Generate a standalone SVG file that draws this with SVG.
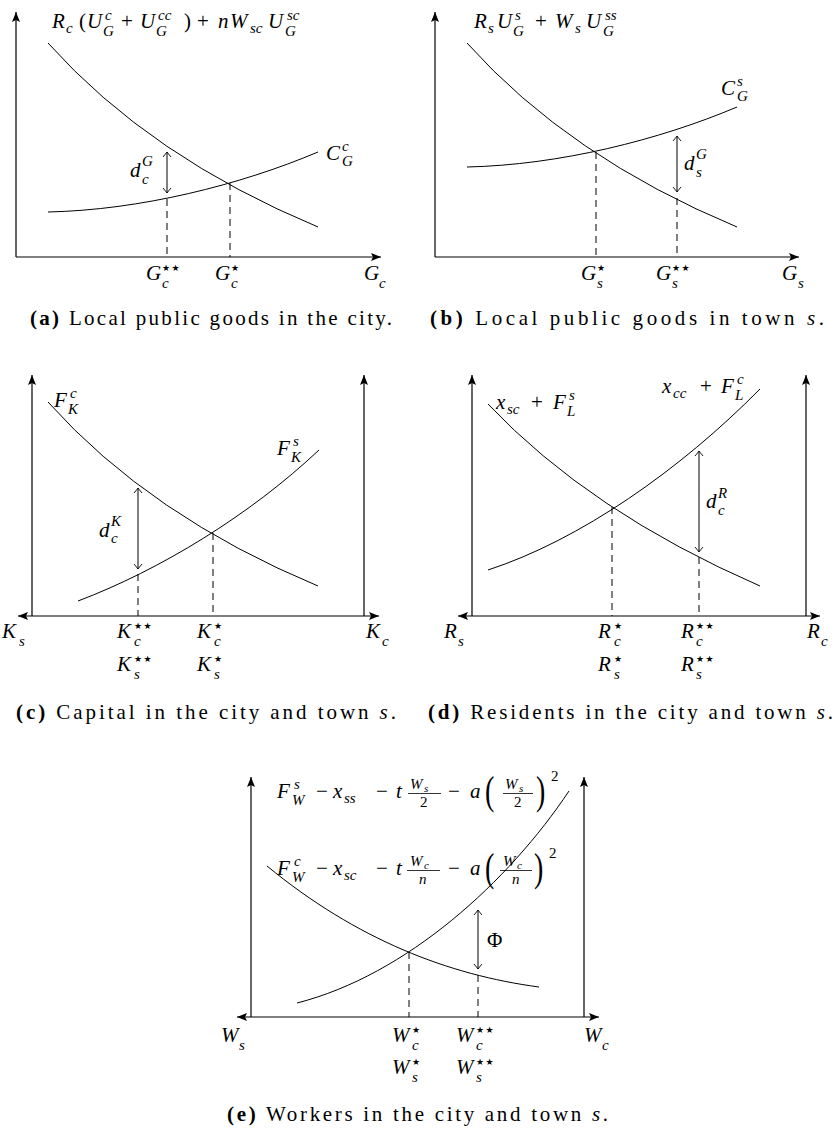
<svg xmlns="http://www.w3.org/2000/svg" width="839" height="1130" viewBox="0 0 839 1130">
<style>
text { font-family: "Liberation Serif", "Times New Roman", serif; fill: #000; }
.m { font-size: 21px; font-style: italic; }
.r { font-style: normal; }
.sc { font-size: 15px; }
.ss { font-size: 11px; }
.st { font-family: "DejaVu Sans", sans-serif; font-style: normal; font-size: 9px; letter-spacing: 1.5px; }
.cap { font-size: 21px; }
.b { font-weight: bold; }
.i { font-style: italic; }
.bp { font-size: 40px; font-style: normal; }
.axis { stroke: #000; stroke-width: 1.2; fill: none; }
.curve { stroke: #000; stroke-width: 1; fill: none; }
.dash { stroke: #000; stroke-width: 1; stroke-dasharray: 7 5; fill: none; }
.gap { stroke: #000; stroke-width: 1; fill: none; }
.bar { stroke: #000; stroke-width: 0.8; }
</style>
<defs>
<marker id="ah" viewBox="0 0 10 8" refX="10" refY="4" markerWidth="10" markerHeight="8" markerUnits="userSpaceOnUse" orient="auto-start-reverse">
<path d="M0,0 L10,4 L0,8 L2,4 z" fill="#000"/>
</marker>
<marker id="oh" viewBox="-6 -5 7 10" refX="0" refY="0" markerWidth="7" markerHeight="10" markerUnits="userSpaceOnUse" orient="auto-start-reverse">
<path d="M-5,-4 Q-1.5,-1 0,0 Q-1.5,1 -5,4" fill="none" stroke="#000" stroke-width="0.9"/>
</marker>
</defs>

<!-- Panel (a) -->
<g id="panel-a">
<g id="a-axes">
<line class="axis" x1="16" y1="257" x2="16" y2="12" marker-end="url(#ah)"/>
<line class="axis" x1="16" y1="257" x2="381" y2="257" marker-end="url(#ah)"/>
</g>
<g id="a-curves">
<path class="curve" d="M48,43 Q150,157 318,227"/>
<path class="curve" d="M48,212 C140,210 240,185 318,152"/>
</g>
<g id="a-connectors">
<line class="dash" x1="167" y1="199" x2="167" y2="257"/>
<line class="dash" x1="230" y1="183" x2="230" y2="257"/>
<line class="gap" x1="167" y1="152" x2="167" y2="193" marker-start="url(#oh)" marker-end="url(#oh)"/>
</g>
<g id="a-labels">
<text class="m"><tspan x="52" y="28">R</tspan><tspan class="sc" x="66" y="33">c</tspan><tspan class="r" x="79" y="28">(</tspan><tspan x="87" y="28">U</tspan><tspan class="sc" x="105" y="20">c</tspan><tspan class="sc" x="103" y="36">G</tspan><tspan class="r" x="121" y="28">+</tspan><tspan x="140" y="28">U</tspan><tspan class="sc" x="158" y="20">cc</tspan><tspan class="sc" x="156" y="36">G</tspan><tspan class="r" x="184" y="28">)</tspan><tspan class="r" x="197" y="28">+</tspan><tspan x="218" y="28">n</tspan><tspan x="230" y="28">W</tspan><tspan class="sc" x="250" y="33">sc</tspan><tspan x="268" y="28">U</tspan><tspan class="sc" x="287" y="20">sc</tspan><tspan class="sc" x="285" y="36">G</tspan></text>
<text class="m"><tspan x="326" y="160">C</tspan><tspan class="sc" x="342" y="151">c</tspan><tspan class="sc" x="342" y="166">G</tspan></text>
<text class="m"><tspan x="130" y="177">d</tspan><tspan class="sc" x="142" y="166">G</tspan><tspan class="sc" x="142" y="184">c</tspan></text>
<text class="m"><tspan x="146" y="280">G</tspan><tspan class="st" x="162" y="271">★★</tspan><tspan class="sc" x="162" y="288">c</tspan></text>
<text class="m"><tspan x="215" y="280">G</tspan><tspan class="st" x="231" y="271">★</tspan><tspan class="sc" x="231" y="288">c</tspan></text>
<text class="m"><tspan x="364" y="280">G</tspan><tspan class="sc" x="379" y="288">c</tspan></text>
</g>
<text id="cap-a" class="cap" x="30" y="325" textLength="362" lengthAdjust="spacing"><tspan class="b">(a)</tspan> Local public goods in the city.</text>
</g>

<!-- Panel (b) -->
<g id="panel-b">
<g id="b-axes">
<line class="axis" x1="435" y1="257" x2="435" y2="12" marker-end="url(#ah)"/>
<line class="axis" x1="435" y1="257" x2="799" y2="257" marker-end="url(#ah)"/>
</g>
<g id="b-curves">
<path class="curve" d="M467,43 Q569,157 737,227"/>
<path class="curve" d="M467,167 C559,165 659,140 737,107"/>
</g>
<g id="b-connectors">
<line class="dash" x1="596" y1="152" x2="596" y2="257"/>
<line class="dash" x1="677" y1="198" x2="677" y2="257"/>
<line class="gap" x1="677" y1="136" x2="677" y2="192" marker-start="url(#oh)" marker-end="url(#oh)"/>
</g>
<g id="b-labels">
<text class="m"><tspan x="474" y="28">R</tspan><tspan class="sc" x="488" y="33">s</tspan><tspan x="497" y="28">U</tspan><tspan class="sc" x="515" y="20">s</tspan><tspan class="sc" x="513" y="36">G</tspan><tspan class="r" x="535" y="28">+</tspan><tspan x="555" y="28">W</tspan><tspan class="sc" x="575" y="33">s</tspan><tspan x="586" y="28">U</tspan><tspan class="sc" x="605" y="20">ss</tspan><tspan class="sc" x="603" y="36">G</tspan></text>
<text class="m"><tspan x="721" y="95">C</tspan><tspan class="sc" x="737" y="86">s</tspan><tspan class="sc" x="737" y="101">G</tspan></text>
<text class="m"><tspan x="684" y="170">d</tspan><tspan class="sc" x="696" y="159">G</tspan><tspan class="sc" x="696" y="177">s</tspan></text>
<text class="m"><tspan x="581" y="280">G</tspan><tspan class="st" x="597" y="271">★</tspan><tspan class="sc" x="597" y="288">s</tspan></text>
<text class="m"><tspan x="656" y="280">G</tspan><tspan class="st" x="672" y="271">★★</tspan><tspan class="sc" x="672" y="288">s</tspan></text>
<text class="m"><tspan x="782" y="280">G</tspan><tspan class="sc" x="798" y="288">s</tspan></text>
</g>
<text id="cap-b" class="cap" x="430" y="325" textLength="394" lengthAdjust="spacing"><tspan class="b">(b)</tspan> Local public goods in town <tspan class="i">s</tspan>.</text>
</g>

<!-- Panel (c) -->
<g id="panel-c">
<g id="c-axes">
<line class="axis" x1="18" y1="616" x2="379" y2="616" marker-start="url(#ah)" marker-end="url(#ah)"/>
<line class="axis" x1="32" y1="616" x2="32" y2="375" marker-end="url(#ah)"/>
<line class="axis" x1="364" y1="616" x2="364" y2="375" marker-end="url(#ah)"/>
</g>
<g id="c-curves">
<path class="curve" d="M48,402 Q150,516 318,586"/>
<path class="curve" d="M78,601 C160,570 250,515 319,450"/>
</g>
<g id="c-connectors">
<line class="dash" x1="138" y1="574" x2="138" y2="616"/>
<line class="dash" x1="213" y1="533" x2="213" y2="616"/>
<line class="gap" x1="138" y1="488" x2="138" y2="569" marker-start="url(#oh)" marker-end="url(#oh)"/>
</g>
<g id="c-labels">
<text class="m"><tspan x="54" y="407">F</tspan><tspan class="sc" x="70" y="398">c</tspan><tspan class="sc" x="68" y="414">K</tspan></text>
<text class="m"><tspan x="277" y="455">F</tspan><tspan class="sc" x="293" y="446">s</tspan><tspan class="sc" x="291" y="462">K</tspan></text>
<text class="m"><tspan x="99" y="537">d</tspan><tspan class="sc" x="111" y="526">K</tspan><tspan class="sc" x="111" y="543">c</tspan></text>
<text class="m"><tspan x="2" y="638">K</tspan><tspan class="sc" x="19" y="646">s</tspan></text>
<text class="m"><tspan x="117" y="638">K</tspan><tspan class="st" x="134" y="629">★★</tspan><tspan class="sc" x="134" y="646">c</tspan></text>
<text class="m"><tspan x="117" y="671">K</tspan><tspan class="st" x="134" y="662">★★</tspan><tspan class="sc" x="134" y="679">s</tspan></text>
<text class="m"><tspan x="197" y="638">K</tspan><tspan class="st" x="214" y="629">★</tspan><tspan class="sc" x="214" y="646">c</tspan></text>
<text class="m"><tspan x="197" y="671">K</tspan><tspan class="st" x="214" y="662">★</tspan><tspan class="sc" x="214" y="679">s</tspan></text>
<text class="m"><tspan x="366" y="638">K</tspan><tspan class="sc" x="382" y="646">c</tspan></text>
</g>
<text id="cap-c" class="cap" x="16" y="719" textLength="380" lengthAdjust="spacing"><tspan class="b">(c)</tspan> Capital in the city and town <tspan class="i">s</tspan>.</text>
</g>

<!-- Panel (d) -->
<g id="panel-d">
<g id="d-axes">
<line class="axis" x1="458" y1="616" x2="820" y2="616" marker-start="url(#ah)" marker-end="url(#ah)"/>
<line class="axis" x1="472" y1="616" x2="472" y2="375" marker-end="url(#ah)"/>
<line class="axis" x1="806" y1="616" x2="806" y2="375" marker-end="url(#ah)"/>
</g>
<g id="d-curves">
<path class="curve" d="M488,404 Q590,512 760,586"/>
<path class="curve" d="M488,570 C580,540 680,470 760,389"/>
</g>
<g id="d-connectors">
<line class="dash" x1="612" y1="507" x2="612" y2="616"/>
<line class="dash" x1="699" y1="557" x2="699" y2="616"/>
<line class="gap" x1="699" y1="451" x2="699" y2="552" marker-start="url(#oh)" marker-end="url(#oh)"/>
</g>
<g id="d-labels">
<text class="m"><tspan x="496" y="409">x</tspan><tspan class="sc" x="507" y="414">sc</tspan><tspan class="r" x="531" y="409">+</tspan><tspan x="553" y="409">F</tspan><tspan class="sc" x="569" y="400">s</tspan><tspan class="sc" x="567" y="416">L</tspan></text>
<text class="m"><tspan x="662" y="393">x</tspan><tspan class="sc" x="673" y="398">cc</tspan><tspan class="r" x="700" y="393">+</tspan><tspan x="721" y="393">F</tspan><tspan class="sc" x="737" y="384">c</tspan><tspan class="sc" x="735" y="400">L</tspan></text>
<text class="m"><tspan x="706" y="508">d</tspan><tspan class="sc" x="718" y="498">R</tspan><tspan class="sc" x="718" y="515">c</tspan></text>
<text class="m"><tspan x="444" y="638">R</tspan><tspan class="sc" x="458" y="646">s</tspan></text>
<text class="m"><tspan x="598" y="638">R</tspan><tspan class="st" x="614" y="629">★</tspan><tspan class="sc" x="614" y="646">c</tspan></text>
<text class="m"><tspan x="598" y="671">R</tspan><tspan class="st" x="614" y="662">★</tspan><tspan class="sc" x="614" y="679">s</tspan></text>
<text class="m"><tspan x="681" y="638">R</tspan><tspan class="st" x="696" y="629">★★</tspan><tspan class="sc" x="696" y="646">c</tspan></text>
<text class="m"><tspan x="681" y="671">R</tspan><tspan class="st" x="696" y="662">★★</tspan><tspan class="sc" x="696" y="679">s</tspan></text>
<text class="m"><tspan x="807" y="638">R</tspan><tspan class="sc" x="821" y="646">c</tspan></text>
</g>
<text id="cap-d" class="cap" x="428" y="719" textLength="405" lengthAdjust="spacing"><tspan class="b">(d)</tspan> Residents in the city and town <tspan class="i">s</tspan>.</text>
</g>

<!-- Panel (e) -->
<g id="panel-e">
<g id="e-axes">
<line class="axis" x1="237" y1="1017" x2="599" y2="1017" marker-start="url(#ah)" marker-end="url(#ah)"/>
<line class="axis" x1="251" y1="1017" x2="251" y2="777" marker-end="url(#ah)"/>
<line class="axis" x1="584" y1="1017" x2="584" y2="777" marker-end="url(#ah)"/>
</g>
<g id="e-curves">
<path class="curve" d="M267,866 C357,940 449,975 539,987"/>
<path class="curve" d="M297,1003 C407,975 509,881 569,791"/>
</g>
<g id="e-connectors">
<line class="dash" x1="409" y1="952" x2="409" y2="1017"/>
<line class="dash" x1="478" y1="975" x2="478" y2="1017"/>
<line class="gap" x1="478" y1="910" x2="478" y2="969" marker-start="url(#oh)" marker-end="url(#oh)"/>
</g>
<g id="e-labels">
<text class="m"><tspan x="277" y="798">F</tspan><tspan class="sc" x="294" y="789">s</tspan><tspan class="sc" x="292" y="805">W</tspan><tspan class="r" x="316" y="798">−</tspan><tspan x="333" y="798">x</tspan><tspan class="sc" x="344" y="803">ss</tspan><tspan class="r" x="376" y="798">−</tspan><tspan x="396" y="798">t</tspan><tspan class="sc" x="410" y="789">W</tspan><tspan class="ss" x="424" y="792">s</tspan><tspan class="sc r" x="420" y="807">2</tspan><tspan class="r" x="448" y="798">−</tspan><tspan x="470" y="798">a</tspan><tspan class="sc" x="505" y="789">W</tspan><tspan class="ss" x="519" y="792">s</tspan><tspan class="sc r" x="514" y="807">2</tspan><tspan class="sc r" x="551" y="781">2</tspan></text>
<line class="bar" x1="408" y1="793.5" x2="441" y2="793.5"/>
<line class="bar" x1="503" y1="793.5" x2="533" y2="793.5"/>
<text class="bp" transform="translate(485,804) scale(0.7,1)">(</text>
<text class="bp" transform="translate(536,804) scale(0.7,1)">)</text>
<text class="m"><tspan x="277" y="875">F</tspan><tspan class="sc" x="294" y="866">c</tspan><tspan class="sc" x="292" y="882">W</tspan><tspan class="r" x="316" y="875">−</tspan><tspan x="333" y="875">x</tspan><tspan class="sc" x="344" y="880">sc</tspan><tspan class="r" x="376" y="875">−</tspan><tspan x="396" y="875">t</tspan><tspan class="sc" x="410" y="866">W</tspan><tspan class="ss" x="424" y="869">c</tspan><tspan class="sc" x="419" y="884">n</tspan><tspan class="r" x="448" y="875">−</tspan><tspan x="470" y="875">a</tspan><tspan class="sc" x="503" y="866">W</tspan><tspan class="ss" x="517" y="869">c</tspan><tspan class="sc" x="512" y="884">n</tspan><tspan class="sc r" x="549" y="858">2</tspan></text>
<line class="bar" x1="407" y1="870.5" x2="440" y2="870.5"/>
<line class="bar" x1="500" y1="870.5" x2="532" y2="870.5"/>
<text class="bp" transform="translate(485,881) scale(0.7,1)">(</text>
<text class="bp" transform="translate(534,881) scale(0.7,1)">)</text>
<text class="m r" x="487" y="947">Φ</text>
<text class="m"><tspan x="221" y="1042">W</tspan><tspan class="sc" x="239" y="1050">s</tspan></text>
<text class="m"><tspan x="392" y="1042">W</tspan><tspan class="st" x="412" y="1033">★</tspan><tspan class="sc" x="412" y="1050">c</tspan></text>
<text class="m"><tspan x="392" y="1074">W</tspan><tspan class="st" x="412" y="1065">★</tspan><tspan class="sc" x="412" y="1082">s</tspan></text>
<text class="m"><tspan x="456" y="1042">W</tspan><tspan class="st" x="476" y="1033">★★</tspan><tspan class="sc" x="476" y="1050">c</tspan></text>
<text class="m"><tspan x="456" y="1074">W</tspan><tspan class="st" x="476" y="1065">★★</tspan><tspan class="sc" x="476" y="1082">s</tspan></text>
<text class="m"><tspan x="584" y="1042">W</tspan><tspan class="sc" x="602" y="1050">c</tspan></text>
</g>
<text id="cap-e" class="cap" x="227" y="1121" textLength="381" lengthAdjust="spacing"><tspan class="b">(e)</tspan> Workers in the city and town <tspan class="i">s</tspan>.</text>
</g>
</svg>
